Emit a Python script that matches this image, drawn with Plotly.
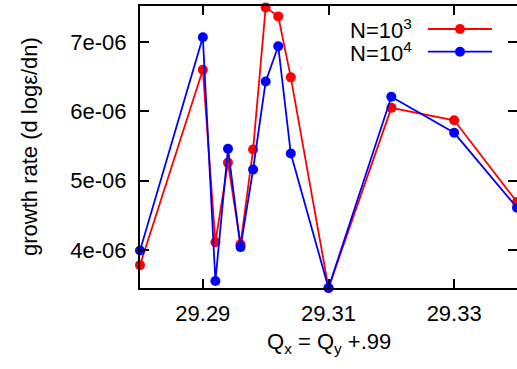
import plotly.graph_objects as go

# Tune values Q_x (with Q_y = Q_x - .99) and measured growth rates
qx_n3 = [29.28, 29.29, 29.292, 29.294, 29.296, 29.298, 29.30, 29.302, 29.304, 29.31, 29.32, 29.33, 29.34]
rate_n3 = [3.78e-6, 6.60e-6, 4.11e-6, 5.26e-6, 4.08e-6, 5.45e-6, 7.50e-6, 7.37e-6, 6.49e-6, 3.45e-6, 6.05e-6, 5.87e-6, 4.69e-6]

qx_n4 = [29.28, 29.29, 29.292, 29.294, 29.296, 29.298, 29.30, 29.302, 29.304, 29.31, 29.32, 29.33, 29.34]
rate_n4 = [3.99e-6, 7.07e-6, 3.55e-6, 5.46e-6, 4.04e-6, 5.16e-6, 6.43e-6, 6.94e-6, 5.39e-6, 3.45e-6, 6.21e-6, 5.69e-6, 4.61e-6]

series_names = ["N=10<sup>3</sup>", "N=10<sup>4</sup>"]
series_colors = ["#ff0000", "#0000ff"]

y_tickvals = [4e-6, 5e-6, 6e-6, 7e-6]
y_ticktext = ["4e-06", "5e-06", "6e-06", "7e-06"]
x_tickvals = [29.29, 29.31, 29.33]
x_ticktext = ["29.29", "29.31", "29.33"]

W, H = 517, 369
ML, MR, MT, MB = 140, 0, 6, 81
PW, PH = W - ML - MR, H - MT - MB
FONT = "Liberation Sans, Arial, sans-serif"
FS = 22


def px_x(x):
    return (x - ML) / PW


def px_y(y):
    return (H - MB - y) / PH


fig = go.Figure()
for xs, ys, name, col in [(qx_n3, rate_n3, series_names[0], series_colors[0]),
                          (qx_n4, rate_n4, series_names[1], series_colors[1])]:
    fig.add_trace(go.Scatter(
        x=xs, y=ys, name=name, mode="lines+markers",
        line=dict(color=col, width=1.8),
        marker=dict(color=col, size=10, line=dict(width=0)),
        cliponaxis=False, showlegend=False,
    ))

# Right-hand mirror ticks without a frame line
fig.add_trace(go.Scatter(x=[None], y=[None], yaxis="y2", showlegend=False))

annotations = [
    dict(text="growth rate (d logε/dn)", x=px_x(29), y=px_y(147), xref="paper", yref="paper",
         xanchor="center", yanchor="middle",
         textangle=-90, showarrow=False, font=dict(size=FS, color="black", family=FONT)),
    dict(text="Q<sub>x</sub> = Q<sub>y</sub> +.99", x=px_x(329), y=px_y(343), xref="paper", yref="paper",
         xanchor="center", yanchor="middle",
         showarrow=False, font=dict(size=FS, color="black", family=FONT)),
]
shapes = []
for i, (name, col) in enumerate(zip(series_names, series_colors)):
    yy = px_y(29 + i * 22.7)
    annotations.append(dict(text=name, x=px_x(414), y=yy, xref="paper", yref="paper",
                            xanchor="right", yanchor="middle", showarrow=False,
                            font=dict(size=FS, color="black", family=FONT)))
    shapes.append(dict(type="line", xref="paper", yref="paper", x0=px_x(428), x1=px_x(492),
                       y0=yy, y1=yy, line=dict(color=col, width=1.8)))
    shapes.append(dict(type="circle", xref="paper", yref="paper",
                       xsizemode="pixel", ysizemode="pixel", xanchor=px_x(460), yanchor=yy,
                       x0=-5, x1=5, y0=-5, y1=5, fillcolor=col, line=dict(width=0)))

fig.update_layout(
    width=W, height=H,
    margin=dict(l=ML, r=MR, t=MT, b=MB, pad=0),
    paper_bgcolor="white", plot_bgcolor="white",
    font=dict(family=FONT, size=FS, color="black"),
    xaxis=dict(range=[29.28, 29.34], tickvals=x_tickvals, ticktext=x_ticktext,
               ticks="inside", ticklen=9, tickwidth=1.5, tickcolor="black",
               showline=True, linewidth=2, linecolor="black", mirror="ticks",
               showgrid=False, zeroline=False, ticklabelstandoff=5),
    yaxis=dict(range=[3.45e-6, 7.52e-6], tickvals=y_tickvals, ticktext=y_ticktext,
               ticks="inside", ticklen=9, tickwidth=1.5, tickcolor="black",
               showline=True, linewidth=2, linecolor="black", mirror=False,
               showgrid=False, zeroline=False, ticklabelstandoff=7),
    yaxis2=dict(range=[3.45e-6, 7.52e-6], tickvals=y_tickvals, overlaying="y", side="right",
                ticks="inside", ticklen=9, tickwidth=1.5, tickcolor="black",
                showticklabels=False, showline=False, showgrid=False, zeroline=False),
    annotations=annotations, shapes=shapes,
)

fig.write_html("out.html")
